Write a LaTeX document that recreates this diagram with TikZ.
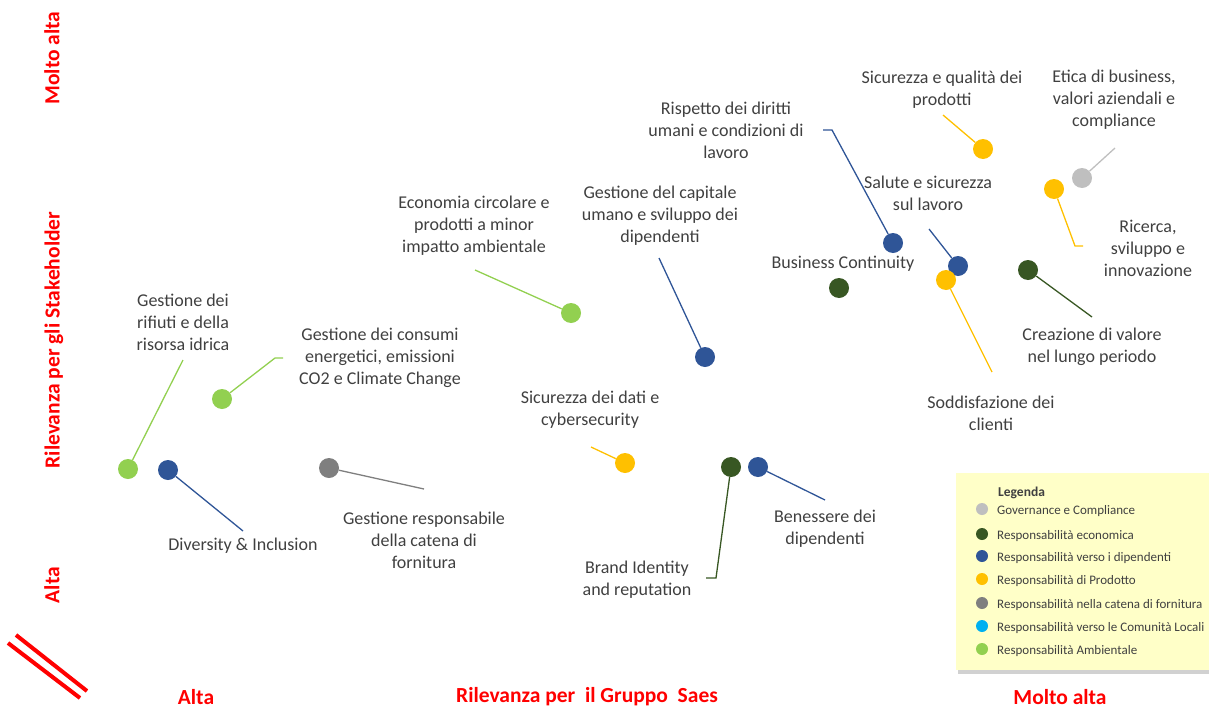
\documentclass[tikz,border=0pt]{standalone}
\usepackage{fontspec}
\setmainfont{Carlito}
\usepackage{tikz}
\definecolor{cAmb}{HTML}{92D050}
\definecolor{cDip}{HTML}{2F5597}
\definecolor{cEco}{HTML}{385723}
\definecolor{cProd}{HTML}{FFC000}
\definecolor{cForn}{HTML}{7F7F7F}
\definecolor{cGov}{HTML}{BFBFBF}
\definecolor{cCom}{HTML}{00B0F0}
\definecolor{txt}{HTML}{404040}
\definecolor{axred}{HTML}{FF0000}
\definecolor{legbg}{HTML}{FFFFC8}
\tikzstyle{lead}=[line width=1.3pt]

\begin{document}
\begin{tikzpicture}
  [x=1pt,y=-1pt,
   dot/.style={circle,fill=#1,minimum size=20pt,inner sep=0pt},
   ldot/.style={circle,fill=#1,minimum size=12pt,inner sep=0pt},
   lbl/.style={align=center,text=txt,font=\fontsize{18}{22}\selectfont},
   leg/.style={anchor=west,text=txt,font=\fontsize{13}{14}\selectfont,inner sep=0pt},
   axis/.style={text=axred,font=\fontsize{21.5}{22}\selectfont\bfseries}
  ]
  \useasboundingbox (0,0) rectangle (1209,709);

  % axes
  \node[axis] (xlo) at (196,697) {Alta};
  \node[axis] (xname) at (587,697) {Rilevanza per~ il Gruppo~ Saes};
  \node[axis] (xhi) at (1060,697) {Molto alta};
  \node[axis,rotate=90] (ylo) at (52,585) {Alta};
  \node[axis,rotate=90] (yname) at (54,340) {Rilevanza per gli Stakeholder};
  \node[axis,rotate=90] (yhi) at (52,58) {Molto alta};
  \draw[axred,line width=4pt] (8,643) -- (80,698) (16,635) -- (87,691);

  % ambientale
  \node[dot=cAmb] (rif) at (128,469) {};
  \node[lbl] (trif) at (183,322) {Gestione dei\\rifiuti e della\\risorsa idrica};
  \draw[lead,cAmb] (rif) -- (183,360) coordinate (erif);
  \node[dot=cAmb] (ene) at (222,399) {};
  \node[lbl] (tene) at (380,358) {Gestione dei consumi\\energetici, emissioni\\CO2 e Climate Change};
  \draw[lead,cAmb] (ene) -- (275,358) coordinate (eene) -- (283,358);
  \node[dot=cAmb] (eco) at (571,313) {};
  \node[lbl] (teco) at (474,226) {Economia circolare e\\prodotti a minor\\impatto ambientale};
  \draw[lead,cAmb] (eco) -- (475,270) coordinate (eeco);

  % dipendenti
  \node[dot=cDip] (div) at (168,470) {};
  \node[lbl] (tdiv) at (243,546) {Diversity \& Inclusion};
  \draw[lead,cDip] (div) -- (243,531) coordinate (ediv);
  \node[dot=cDip] (cap) at (705,357) {};
  \node[lbl] (tcap) at (660,216) {Gestione del capitale\\umano e sviluppo dei\\dipendenti};
  \draw[lead,cDip] (cap) -- (659,258) coordinate (ecap);
  \node[dot=cDip] (ben) at (758,467) {};
  \node[lbl] (tben) at (825,529) {Benessere dei\\dipendenti};
  \draw[lead,cDip] (ben) -- (825,500) coordinate (eben);
  \node[dot=cDip] (dir) at (893,243) {};
  \node[lbl] (tdir) at (726,130) {Rispetto dei diritti\\umani e condizioni di\\lavoro};
  \draw[lead,cDip] (dir) -- (832,130) coordinate (edir) -- (823,130);
  \node[dot=cDip] (sal) at (958,266) {};
  \node[lbl] (tsal) at (928,193) {Salute e sicurezza\\sul lavoro};
  \draw[lead,cDip] (sal) -- (929,229) coordinate (esal);

  % fornitura
  \node[dot=cForn] (for) at (329,468) {};
  \node[lbl] (tfor) at (424,540) {Gestione responsabile\\della catena di\\fornitura};
  \draw[lead,cForn] (for) -- (424,489) coordinate (efor);

  % prodotto
  \node[dot=cProd] (dat) at (625,463) {};
  \node[lbl] (tdat) at (590,410) {Sicurezza dei dati e\\cybersecurity};
  \draw[lead,cProd] (dat) -- (591,447) coordinate (edat);
  \node[dot=cProd] (qua) at (983,149) {};
  \node[lbl] (tqua) at (942,90) {Sicurezza e qualità dei\\prodotti};
  \draw[lead,cProd] (qua) -- (943,115) coordinate (equa);
  \node[dot=cProd] (ric) at (1054,189) {};
  \node[lbl] (tric) at (1148,248) {Ricerca,\\sviluppo e\\innovazione};
  \draw[lead,cProd] (ric) -- (1075,246) coordinate (eric) -- (1083,246);

  % economica
  \node[dot=cEco] (bra) at (731,467) {};
  \node[lbl] (tbra) at (637,580) {Brand Identity\\and reputation};
  \draw[lead,cEco] (bra) -- (716,578) coordinate (ebra) -- (706,578);
  \node[dot=cEco] (bus) at (839,288) {};
  \node[lbl] (tbus) at (843,264) {Business Continuity};
  \node[dot=cEco] (cre) at (1028,270) {};
  \node[lbl] (tcre) at (1092,347) {Creazione di valore\\nel lungo periodo};
  \draw[lead,cEco] (cre) -- (1092,317) coordinate (ecre);
  \node[dot=cProd] (sod) at (946,280) {};
  \node[lbl] (tsod) at (991,413) {Soddisfazione dei\\clienti};
  \draw[lead,cProd] (sod) -- (992,372) coordinate (esod);

  % governance
  \node[dot=cGov] (eti) at (1082,178) {};
  \node[lbl] (teti) at (1114,100) {Etica di business,\\valori aziendali e\\compliance};
  \draw[lead,cGov] (eti) -- (1115,148) coordinate (eeti);

  % legend
  \fill[black!18] (958,476) rectangle (1212,674);
  \fill[legbg] (956,473) rectangle (1212,670);
  \node[leg,font=\fontsize{13.5}{14}\selectfont\bfseries] (leg0) at (998,493) {Legenda};
  \foreach \c/\t/\y [count=\i] in {cGov/Governance e Compliance/511,
      cEco/Responsabilità economica/536,
      cDip/Responsabilità verso i dipendenti/558,
      cProd/Responsabilità di Prodotto/581,
      cForn/Responsabilità nella catena di fornitura/605,
      cCom/Responsabilità verso le Comunità Locali/628,
      cAmb/Responsabilità Ambientale/651}{
    \node[ldot=\c] (ld\i) at (982,\y-2) {};
    \node[leg] (lt\i) at (997,\y) {\t};
  }
\end{tikzpicture}
\end{document}
